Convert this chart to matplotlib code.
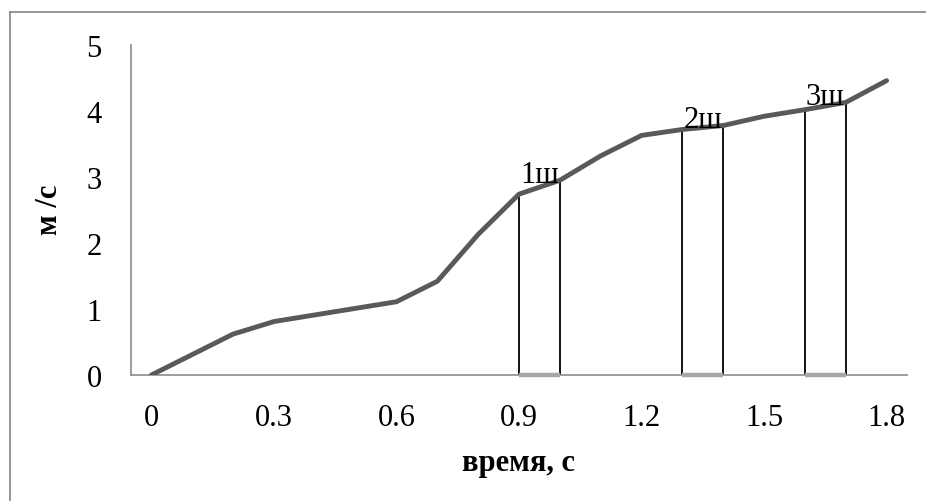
import matplotlib
matplotlib.use("Agg")
import matplotlib.pyplot as plt
from matplotlib.lines import Line2D

# Speed over time
times = [0.0, 0.1, 0.2, 0.3, 0.4, 0.5, 0.6, 0.7, 0.8, 0.9,
         1.0, 1.1, 1.2, 1.3, 1.4, 1.5, 1.6, 1.7, 1.8]
speed = [0.0, 0.31, 0.62, 0.81, 0.91, 1.01, 1.11, 1.42, 2.13, 2.74,
         2.95, 3.32, 3.63, 3.72, 3.78, 3.92, 4.02, 4.13, 4.46]

# Step intervals (start time, end time, label)
step_starts = [0.9, 1.3, 1.6]
step_ends = [1.0, 1.4, 1.7]
step_labels = ["1ш", "2ш", "3ш"]

x_ticks = [0.0, 0.3, 0.6, 0.9, 1.2, 1.5, 1.8]
x_tick_labels = ["0", "0.3", "0.6", "0.9", "1.2", "1.5", "1.8"]
y_ticks = [0, 1, 2, 3, 4, 5]

plt.rcParams["font.family"] = ["Liberation Serif", "DejaVu Serif"]

W, H = 926, 502
fig = plt.figure(figsize=(W / 100, H / 100), dpi=100)
ax = fig.add_axes([131 / W, 1 - 376 / H, (907 - 131) / W, (376 - 46) / H])

axis_grey = "#8c8c8c"
line_grey = "#595959"

ax.plot(times, speed, color=line_grey, lw=3.5, solid_capstyle="round",
        solid_joinstyle="round", zorder=3)

def value_at(t):
    return speed[min(range(len(times)), key=lambda i: abs(times[i] - t))]

for t0, t1, lab in zip(step_starts, step_ends, step_labels):
    for t in (t0, t1):
        ax.plot([t, t], [0, value_at(t)], color="black", lw=1.3, zorder=2)
    ax.plot([t0, t1], [0, 0], color="#a6a6a6", lw=3.2, zorder=4,
            clip_on=False, solid_capstyle="butt")
    ax.text((t0 + t1) / 2, value_at(t1) - 0.02, lab, ha="center", va="baseline",
            fontsize=22, zorder=5)

ax.set_xlim(-0.05, 1.85)
ax.set_ylim(0, 5)
ax.set_xticks(x_ticks)
ax.set_xticklabels(x_tick_labels)
ax.set_yticks(y_ticks)
ax.tick_params(axis="both", length=0, labelsize=22)
ax.tick_params(axis="x", pad=20)
ax.tick_params(axis="y", pad=21)

for side in ("top", "right"):
    ax.spines[side].set_visible(False)
for side in ("left", "bottom"):
    ax.spines[side].set_color(axis_grey)
    ax.spines[side].set_linewidth(1.2)

ax.set_xlabel("время, с", fontsize=22, fontweight="bold", labelpad=12)
ax.set_ylabel("м /с", fontsize=22, fontweight="bold")
ax.yaxis.set_label_coords(64 / W, 1 - 210 / H, transform=fig.transFigure)

# Outer chart frame
fig.add_artist(Line2D([10 / W, 1], [1 - 13 / H, 1 - 13 / H], transform=fig.transFigure,
                      color=axis_grey, lw=1.3))
fig.add_artist(Line2D([10 / W, 10 / W], [0, 1 - 13 / H], transform=fig.transFigure,
                      color=axis_grey, lw=1.3))

fig.savefig("out.png", dpi=100)
